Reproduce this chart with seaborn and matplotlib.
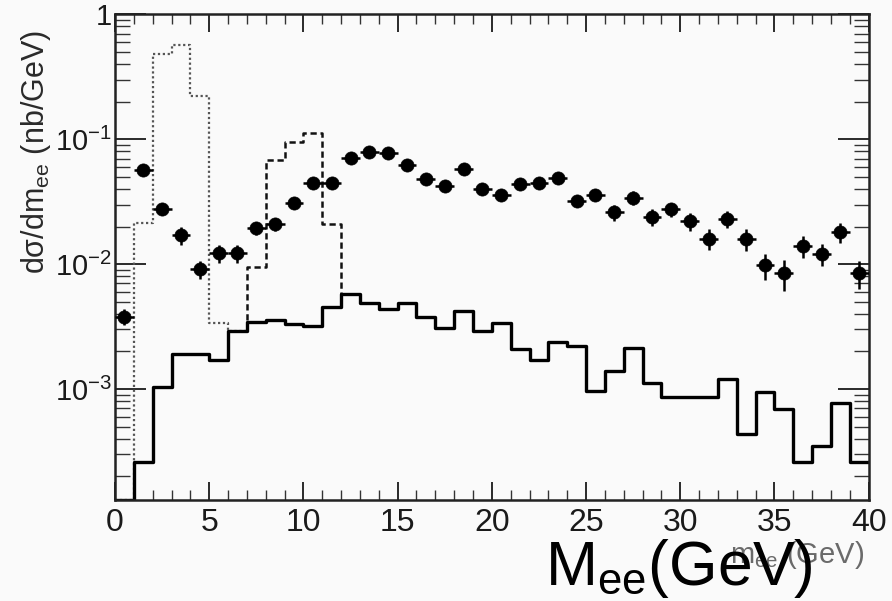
import numpy as np
import pandas as pd
import matplotlib
matplotlib.use("Agg")
import matplotlib.pyplot as plt
import seaborn as sns
from matplotlib.ticker import FixedLocator, FixedFormatter, MultipleLocator, NullFormatter, LogLocator

# ---------------- data ----------------
bin_edges = np.arange(0, 41, 1)
bin_centers = bin_edges[:-1] + 0.5

# solid histogram (continuum)
solid_vals = [1.3e-4, 2.6e-4, 1.03e-3, 1.9e-3, 1.9e-3, 1.7e-3, 2.9e-3, 3.45e-3, 3.6e-3, 3.3e-3,
              3.2e-3, 4.5e-3, 5.8e-3, 4.9e-3, 4.4e-3, 4.9e-3, 3.8e-3, 3.1e-3, 4.2e-3, 2.9e-3,
              3.4e-3, 2.1e-3, 1.7e-3, 2.4e-3, 2.2e-3, 9.7e-4, 1.4e-3, 2.15e-3, 1.12e-3, 8.7e-4,
              8.7e-4, 8.7e-4, 1.2e-3, 4.4e-4, 9.5e-4, 6.9e-4, 2.6e-4, 3.5e-4, 7.8e-4, 2.6e-4]

# dotted histogram (J/psi region), bins 0..7
jpsi_edges = np.arange(0, 8, 1)
jpsi_vals = [1.3e-4, 2.14e-2, 0.48, 0.57, 0.22, 3.4e-3, 2.9e-3]

# dashed histogram (Upsilon region), bins 6..13
ups_edges = np.arange(6, 14, 1)
ups_vals = [2.9e-3, 9.5e-3, 6.8e-2, 9.5e-2, 0.113, 2.08e-2, 5.8e-3]

# data points
data_vals = [3.8e-3, 5.7e-2, 2.75e-2, 1.7e-2, 9.1e-3, 1.22e-2, 1.22e-2, 1.93e-2, 2.08e-2, 3.1e-2,
             4.5e-2, 4.5e-2, 7.1e-2, 7.9e-2, 7.7e-2, 6.2e-2, 4.8e-2, 4.2e-2, 5.75e-2, 4.0e-2,
             3.6e-2, 4.4e-2, 4.5e-2, 4.9e-2, 3.2e-2, 3.6e-2, 2.6e-2, 3.4e-2, 2.4e-2, 2.75e-2,
             2.2e-2, 1.6e-2, 2.3e-2, 1.6e-2, 9.8e-3, 8.5e-3, 1.4e-2, 1.2e-2, 1.8e-2, 8.5e-3]
data_err_frac = [0.15, 0.10, 0.10, 0.17, 0.17, 0.17, 0.17, 0.12, 0.12, 0.10,
                 0.08, 0.08, 0.08, 0.08, 0.08, 0.08, 0.08, 0.08, 0.08, 0.08,
                 0.08, 0.08, 0.08, 0.08, 0.10, 0.10, 0.15, 0.13, 0.16, 0.13,
                 0.16, 0.19, 0.16, 0.20, 0.24, 0.28, 0.20, 0.20, 0.18, 0.25]

y_tick_vals = [1e-3, 1e-2, 1e-1, 1]
y_tick_labels = ["10$^{-3}$", "10$^{-2}$", "10$^{-1}$", "1"]

# ---------------- style ----------------
sns.set_style("ticks")
plt.rcParams["font.family"] = ["Liberation Sans", "DejaVu Sans"]
plt.rcParams["mathtext.default"] = "regular"

bg = "#fafafa"
fig = plt.figure(figsize=(8.92, 6.01), dpi=100, facecolor=bg)
ax = fig.add_axes([115 / 892, 1 - 500 / 601, (868.7 - 115) / 892, (500 - 14.3) / 601])
ax.set_facecolor(bg)
ax.set_yscale("log")

df_solid = pd.DataFrame({"m": bin_centers, "w": solid_vals})
df_jpsi = pd.DataFrame({"m": jpsi_edges[:-1] + 0.5, "w": jpsi_vals})
df_ups = pd.DataFrame({"m": ups_edges[:-1] + 0.5, "w": ups_vals})

sns.histplot(data=df_jpsi, x="m", weights="w", binwidth=1,
             binrange=(float(jpsi_edges[0]), float(jpsi_edges[-1])), element="step", fill=False,
             color="#555555", linestyle=(0, (1, 1.2)), linewidth=1.6, ax=ax)
sns.histplot(data=df_ups, x="m", weights="w", binwidth=1,
             binrange=(float(ups_edges[0]), float(ups_edges[-1])), element="step", fill=False,
             color="#111111", linestyle=(0, (2.5, 1.5)), linewidth=1.8, ax=ax)
sns.histplot(data=df_solid, x="m", weights="w", binwidth=1,
             binrange=(float(bin_edges[0]), float(bin_edges[-1])), element="step", fill=False,
             color="black", linewidth=2.4, ax=ax)

vals = np.array(data_vals)
frac = np.array(data_err_frac)
ax.errorbar(bin_centers, vals, xerr=0.5, yerr=[vals * frac, vals * frac],
            fmt="none", ecolor="black", elinewidth=1.8, capsize=0, zorder=4)
sns.scatterplot(x=bin_centers, y=vals, color="black", s=90, edgecolor="black",
                linewidth=0.5, marker="o", ax=ax, zorder=5, legend=False)

ax.set_xlim(0, 40)
ax.set_ylim(10 ** -3.888, 1.0)
ax.set_xlabel("")
ax.set_ylabel("")

ax.xaxis.set_major_locator(MultipleLocator(5))
ax.xaxis.set_minor_locator(MultipleLocator(1))
ax.yaxis.set_major_locator(FixedLocator(y_tick_vals))
ax.yaxis.set_major_formatter(FixedFormatter(y_tick_labels))
ax.yaxis.set_minor_locator(LogLocator(base=10, subs=np.arange(2, 10)))
ax.yaxis.set_minor_formatter(NullFormatter())

ax.tick_params(which="both", direction="in", top=True, right=True, color="#333333")
ax.tick_params(axis="x", which="major", length=13, width=1.3, labelsize=23, pad=6, colors="#1a1a1a")
ax.tick_params(axis="x", which="minor", length=7, width=1.0)
ax.tick_params(axis="y", which="major", length=22, width=1.3, labelsize=21, pad=2, colors="#1a1a1a")
ax.tick_params(axis="y", which="minor", length=11, width=1.0)
for sp in ax.spines.values():
    sp.set_linewidth(1.8)
    sp.set_color("#222222")

fig.text(36 / 892, 1 - 152 / 601, "dσ/dm$_{ee}$ (nb/GeV)", rotation=90, ha="center", va="center",
         fontsize=22, color="#2a2a2a")
fig.text(864 / 892, 1 - 563 / 601, "m$_{ee}$ (GeV)", ha="right", va="baseline",
         fontsize=21, color="#6a6a6a")
fig.text(545 / 892, 1 - 585 / 601, "M$_{ee}$(GeV)", ha="left", va="baseline",
         fontsize=45, color="black")

fig.savefig("out.png", dpi=100, facecolor=bg)
